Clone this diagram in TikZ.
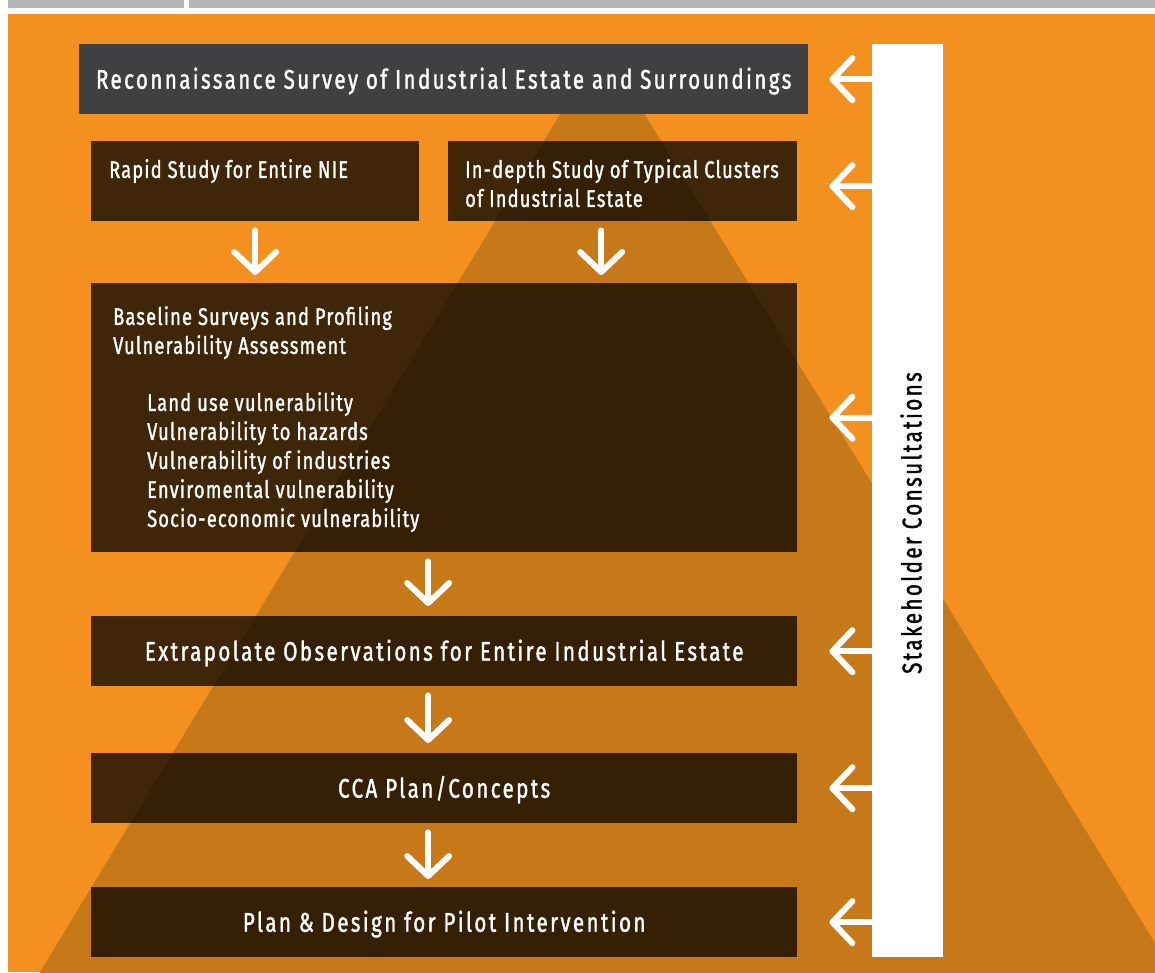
\documentclass[tikz,border=0pt]{standalone}
\usepackage{fontspec}
\setmainfont{Fira Sans}[FakeStretch=0.76,LetterSpace=5,FakeBold=1.4]
\usetikzlibrary{arrows.meta,positioning}
\definecolor{orangebg}{RGB}{243,144,32}
\definecolor{pyramid}{RGB}{199,120,24}
\definecolor{topgray}{RGB}{64,64,66}
\definecolor{stripe}{RGB}{180,181,183}
\newcommand{\bigfont}{\fontsize{27}{29}\selectfont\addfontfeatures{LetterSpace=9}}
\tikzset{
  stepbox/.style={fill=black,fill opacity=0.735,text opacity=1,text=white,inner sep=0,anchor=north west},
  bigtext/.style={font=\bigfont,text height=19pt,text depth=0pt},
  smalltext/.style={text=white,font=\fontsize{24}{29}\selectfont,align=left,anchor=north west,inner sep=0},
  arr/.style={draw=white,line width=6pt,line cap=round,-{Straight Barb[length=20pt,width=42pt,round]}}
}
\begin{document}
\begin{tikzpicture}[x=1pt,y=-1pt]
\useasboundingbox (0,0) rectangle (1155,972);
\fill[stripe] (8,0) rectangle (184,8);
\fill[stripe] (189,0) rectangle (1155,8);
\fill[orangebg] (8,14) rectangle (1155,972);
\begin{scope}
\clip (8,14) rectangle (1155,972);
\fill[pyramid] (602,45) -- (1179,982) -- (34,982) -- cycle;
\end{scope}

\node[fill=topgray,text=white,inner sep=0,anchor=north west,minimum width=729pt,minimum height=70pt,bigtext] (survey) at (79,44) {Reconnaissance Survey of Industrial Estate and Surroundings};
\node[stepbox,minimum width=328pt,minimum height=80pt] (rapid) at (91,141) {};
\node[stepbox,minimum width=349pt,minimum height=80pt] (indepth) at (448,141) {};
\node[stepbox,minimum width=706pt,minimum height=269pt] (baseline) at (91,283) {};
\node[stepbox,minimum width=706pt,minimum height=70pt,bigtext] (extrap) at (91,616) {Extrapolate Observations for Entire Industrial Estate};
\node[stepbox,minimum width=706pt,minimum height=70pt,bigtext] (cca) at (91,753) {CCA Plan/Concepts};
\node[stepbox,minimum width=706pt,minimum height=70pt,bigtext] (pilot) at (91,887) {Plan \& Design for Pilot Intervention};
\node[fill=white,inner sep=0,anchor=north west,minimum width=71pt,minimum height=913pt] (bar) at (872,44) {};

\node[smalltext] (rapidtxt) at ([xshift=18pt,yshift=-18pt]rapid.north west) {Rapid Study for Entire NIE};
\node[smalltext] (indepthtxt) at ([xshift=17pt,yshift=-18pt]indepth.north west) {In-depth Study of Typical Clusters\\of Industrial Estate};
\node[smalltext] (basetxt) at ([xshift=22pt,yshift=-23pt]baseline.north west) {Baseline Surveys and Profiling\\Vulnerability Assessment};
\node[smalltext] (vulnlist) at ([xshift=56pt,yshift=-109pt]baseline.north west) {Land use vulnerability\\Vulnerability to hazards\\Vulnerability of industries\\Enviromental vulnerability\\Socio-economic vulnerability};
\node[rotate=90,font=\bigfont] (consult) at (911,523) {Stakeholder Consultations};

\draw[arr,shorten <=9pt,shorten >=8pt] (rapid.south) -- (rapid.south |- baseline.north);
\draw[arr,shorten <=9pt,shorten >=8pt] ([xshift=-21.5pt]indepth.south) -- ([xshift=-21.5pt]indepth.south |- baseline.north);
\draw[arr,shorten <=9pt,shorten >=10pt] ([xshift=-16pt]baseline.south) -- ([xshift=-16pt]extrap.north);
\draw[arr,shorten <=9pt,shorten >=10pt] ([xshift=-16pt]extrap.south) -- ([xshift=-16pt]cca.north);
\draw[arr,shorten <=9pt,shorten >=8pt] ([xshift=-16pt]cca.south) -- ([xshift=-16pt]pilot.north);

\draw[arr,shorten >=21pt] (bar.west |- survey.east) -- (survey.east);
\draw[arr,shorten >=32pt] ([yshift=-5pt]bar.west |- indepth.east) -- ([yshift=-5pt]indepth.east);
\draw[arr,shorten >=32pt] (bar.west |- baseline.east) -- (baseline.east);
\draw[arr,shorten >=32pt] (bar.west |- extrap.east) -- (extrap.east);
\draw[arr,shorten >=32pt] (bar.west |- cca.east) -- (cca.east);
\draw[arr,shorten >=32pt] (bar.west |- pilot.east) -- (pilot.east);
\end{tikzpicture}
\end{document}
